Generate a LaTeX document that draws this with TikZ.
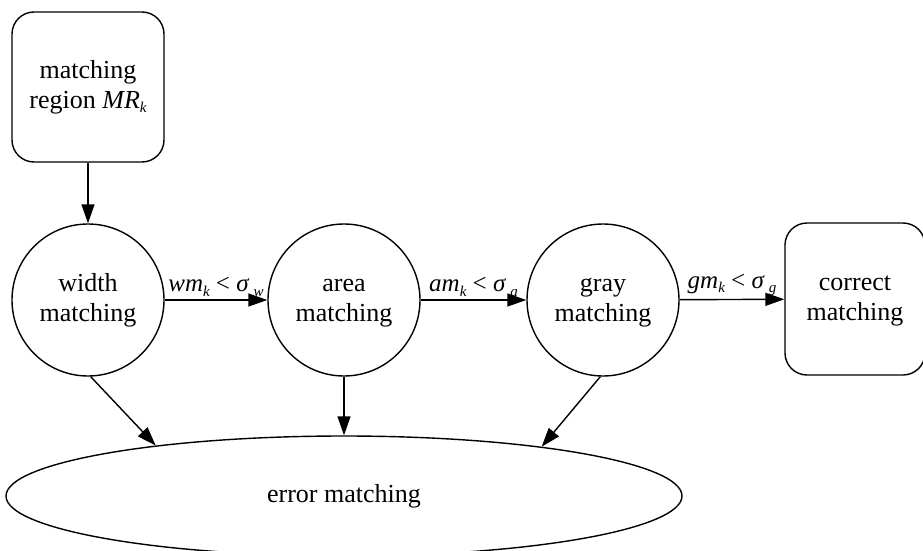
\documentclass[tikz,border=0pt]{standalone}
\usepackage{fontspec}
\setmainfont{Liberation Serif}
\usetikzlibrary{shapes.geometric,arrows.meta}
\newcommand{\mysub}[1]{\raisebox{-0.4ex}{\fontsize{15}{15}\selectfont\itshape #1}}
\begin{document}
\begin{tikzpicture}[x=1pt,y=-1pt,
  every node/.style={font=\fontsize{26}{30}\selectfont, align=center},
  rbox/.style={draw, line width=1.4pt, rounded corners=22pt, minimum width=152pt, minimum height=150pt, inner sep=0pt},
  circ/.style={draw, line width=1.4pt, circle, minimum size=152pt, inner sep=0pt},
  ell/.style={draw, line width=1.4pt, ellipse, minimum width=676pt, minimum height=120pt, inner sep=0pt},
  arr/.style={line width=1.4pt, -{Triangle[length=19pt,width=13pt]}},
  lab/.style={above, inner sep=3pt, font=\fontsize{25}{26}\selectfont}
]
\useasboundingbox (0,0) rectangle (923,551);
\node[rbox] (mr) at (88,87) {\strut matching\\region \textit{MR}\mysub{k}\strut};
\node[circ] (width) at (88,300) {\strut width\\matching\strut};
\node[circ] (area) at (344,300) {\strut area\\matching\strut};
\node[circ] (gray) at (603,300) {\strut gray\\matching\strut};
\node[rbox, minimum width=140pt, minimum height=152pt] (corr) at (855,299) {\strut correct\\matching\strut};
\node[ell] (err) at (344,496) {error matching};

\draw[arr] (mr) -- (width);
\draw[arr] (width) -- node[lab] {\textit{wm}\mysub{k} < \textit{σ}\,\mysub{w}} (area);
\draw[arr] (area) -- node[lab] {\textit{am}\mysub{k} < \textit{σ}\,\mysub{a}} (gray);
\draw[arr] (gray) -- node[lab] {\textit{gm}\mysub{k} < \textit{σ}\,\mysub{g}} (corr);
\draw[arr] (width.-88) -- (err.165);
\draw[arr] (area.south) -- (err.north);
\draw[arr] (gray.-92) -- (err.14);
\end{tikzpicture}
\end{document}
